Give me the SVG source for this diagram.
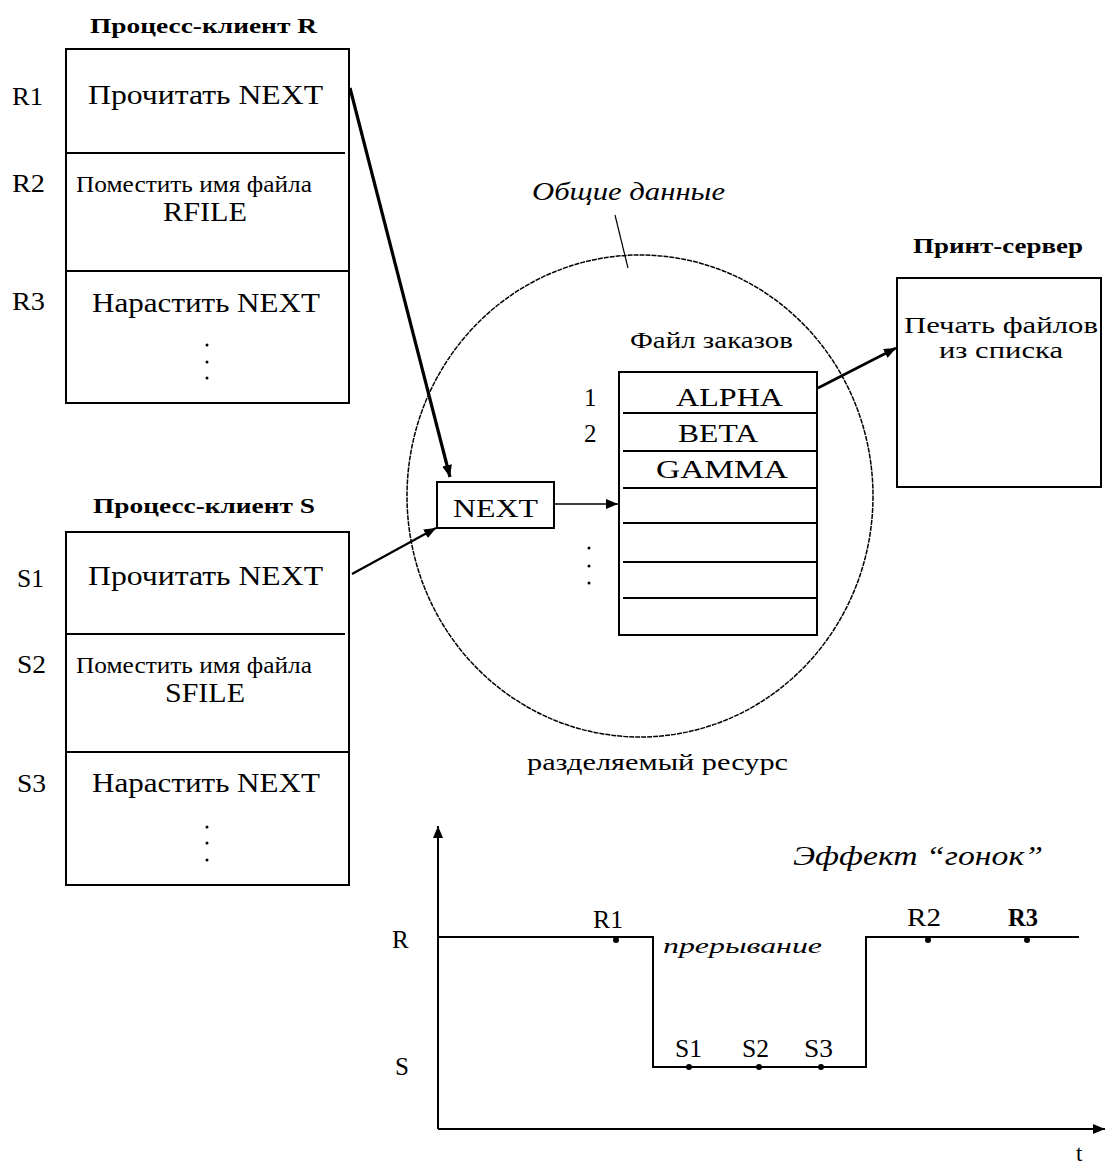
<svg xmlns="http://www.w3.org/2000/svg" width="1105" height="1164" viewBox="0 0 1105 1164">
<style>
text{font-family:"Liberation Serif","Times New Roman",serif;fill:#000}
.t{font-size:28px}
.sm{font-size:23px}
.lbl{font-size:25px}
.b{font-size:22px;font-weight:bold}
.i{font-style:italic}
.box{fill:#fff;stroke:#000;stroke-width:2}
.ln{stroke:#000;stroke-width:2;fill:none}
.dot{fill:#000}
</style>
<defs>
<marker id="ah" viewBox="0 0 12 10" refX="12" refY="5" markerWidth="12" markerHeight="10" markerUnits="userSpaceOnUse" orient="auto">
<path d="M0,0 L12,5 L0,10 z" fill="#000"/>
</marker>
</defs>
<rect width="1105" height="1164" fill="#fff"/>

<g id="shared-resource">
<ellipse cx="640" cy="496" rx="233" ry="241" fill="none" stroke="#000" stroke-width="1.5" stroke-dasharray="5 1"/>
<text class="lbl i" x="532" y="200" textLength="193" lengthAdjust="spacingAndGlyphs">Общие данные</text>
<text class="sm" x="527" y="770" textLength="261" lengthAdjust="spacingAndGlyphs">разделяемый ресурс</text>
</g>

<g id="client-r">
<text class="b" x="90" y="33" textLength="227" lengthAdjust="spacingAndGlyphs">Процесс-клиент R</text>
<rect class="box" x="66" y="49" width="283" height="354"/>
<line class="ln" x1="66" y1="153" x2="345" y2="153"/>
<line class="ln" x1="66" y1="271" x2="349" y2="271"/>
<text class="lbl" x="12" y="105" textLength="31" lengthAdjust="spacingAndGlyphs">R1</text>
<text class="lbl" x="12" y="192" textLength="33" lengthAdjust="spacingAndGlyphs">R2</text>
<text class="lbl" x="12" y="310" textLength="33" lengthAdjust="spacingAndGlyphs">R3</text>
<text class="t" x="88" y="104" textLength="235" lengthAdjust="spacingAndGlyphs">Прочитать NEXT</text>
<text class="sm" x="76" y="192" textLength="236" lengthAdjust="spacingAndGlyphs">Поместить имя файла</text>
<text class="t" x="163" y="221" textLength="84" lengthAdjust="spacingAndGlyphs">RFILE</text>
<text class="t" x="92" y="312" textLength="228" lengthAdjust="spacingAndGlyphs">Нарастить NEXT</text>
<circle class="dot" cx="207" cy="345" r="1.5"/>
<circle class="dot" cx="207" cy="362" r="1.5"/>
<circle class="dot" cx="207" cy="378" r="1.5"/>
</g>

<g id="client-s">
<text class="b" x="93" y="513" textLength="222" lengthAdjust="spacingAndGlyphs">Процесс-клиент S</text>
<rect class="box" x="66" y="532" width="283" height="353"/>
<line class="ln" x1="66" y1="634" x2="345" y2="634"/>
<line class="ln" x1="66" y1="752" x2="349" y2="752"/>
<text class="lbl" x="17" y="587" textLength="27" lengthAdjust="spacingAndGlyphs">S1</text>
<text class="lbl" x="17" y="673" textLength="29" lengthAdjust="spacingAndGlyphs">S2</text>
<text class="lbl" x="17" y="792" textLength="29" lengthAdjust="spacingAndGlyphs">S3</text>
<text class="t" x="88" y="585" textLength="235" lengthAdjust="spacingAndGlyphs">Прочитать NEXT</text>
<text class="sm" x="76" y="673" textLength="236" lengthAdjust="spacingAndGlyphs">Поместить имя файла</text>
<text class="t" x="165" y="702" textLength="80" lengthAdjust="spacingAndGlyphs">SFILE</text>
<text class="t" x="92" y="792" textLength="228" lengthAdjust="spacingAndGlyphs">Нарастить NEXT</text>
<circle class="dot" cx="207" cy="827" r="1.5"/>
<circle class="dot" cx="207" cy="843" r="1.5"/>
<circle class="dot" cx="207" cy="860" r="1.5"/>
</g>

<g id="next">
<rect class="box" x="437" y="482" width="117" height="46"/>
<text class="lbl" x="453" y="517" textLength="85" lengthAdjust="spacingAndGlyphs">NEXT</text>
</g>

<g id="order-file">
<text class="sm" x="630" y="348" textLength="163" lengthAdjust="spacingAndGlyphs">Файл заказов</text>
<rect class="box" x="619" y="372" width="198" height="263"/>
<line class="ln" x1="623" y1="413" x2="817" y2="413"/>
<line class="ln" x1="623" y1="451" x2="817" y2="451"/>
<line class="ln" x1="623" y1="488" x2="817" y2="488"/>
<line class="ln" x1="623" y1="523" x2="817" y2="523"/>
<line class="ln" x1="623" y1="562" x2="817" y2="562"/>
<line class="ln" x1="623" y1="598" x2="817" y2="598"/>
<text class="lbl" x="584" y="406">1</text>
<text class="lbl" x="584" y="442">2</text>
<text class="lbl" x="676" y="406" textLength="107" lengthAdjust="spacingAndGlyphs">ALPHA</text>
<text class="lbl" x="678" y="442" textLength="80" lengthAdjust="spacingAndGlyphs">BETA</text>
<text class="lbl" x="656" y="478" textLength="132" lengthAdjust="spacingAndGlyphs">GAMMA</text>
<circle class="dot" cx="589" cy="548" r="1.5"/>
<circle class="dot" cx="589" cy="566" r="1.5"/>
<circle class="dot" cx="589" cy="583" r="1.5"/>
</g>

<g id="print-server">
<text class="b" x="913" y="253" textLength="170" lengthAdjust="spacingAndGlyphs">Принт-сервер</text>
<rect class="box" x="897" y="278" width="204" height="209"/>
<text class="sm" x="904" y="333" textLength="194" lengthAdjust="spacingAndGlyphs">Печать файлов</text>
<text class="sm" x="939" y="358" textLength="124" lengthAdjust="spacingAndGlyphs">из списка</text>
</g>

<g id="connectors">
<line x1="350" y1="88" x2="450" y2="477" stroke="#000" stroke-width="3.2" marker-end="url(#ah)"/>
<line x1="352" y1="574" x2="436" y2="528" stroke="#000" stroke-width="2.2" marker-end="url(#ah)"/>
<line x1="554" y1="504" x2="618" y2="504" stroke="#000" stroke-width="1.5" marker-end="url(#ah)"/>
<line x1="818" y1="388" x2="896" y2="348" stroke="#000" stroke-width="2.6" marker-end="url(#ah)"/>
<line x1="615" y1="215" x2="628" y2="268" stroke="#000" stroke-width="1.2"/>
</g>

<g id="race-chart">
<line x1="438" y1="1129" x2="438" y2="826" stroke="#000" stroke-width="2" marker-end="url(#ah)"/>
<line x1="438" y1="1129" x2="1105" y2="1129" stroke="#000" stroke-width="2" marker-end="url(#ah)"/>
<polyline class="ln" points="438,937 653,937 653,1067 866,1067 866,937 1079,937"/>
<circle class="dot" cx="616" cy="940" r="3"/>
<circle class="dot" cx="928" cy="940" r="3"/>
<circle class="dot" cx="1027" cy="940" r="3"/>
<circle class="dot" cx="689" cy="1067" r="3"/>
<circle class="dot" cx="759" cy="1067" r="3"/>
<circle class="dot" cx="821" cy="1067" r="3"/>
<text class="lbl" x="392" y="948">R</text>
<text class="lbl" x="395" y="1075">S</text>
<text class="lbl" x="593" y="928" textLength="30" lengthAdjust="spacingAndGlyphs">R1</text>
<text class="lbl" x="907" y="926" textLength="34" lengthAdjust="spacingAndGlyphs">R2</text>
<text class="lbl" x="1008" y="926" font-weight="bold" textLength="30" lengthAdjust="spacingAndGlyphs">R3</text>
<text class="lbl" x="675" y="1057" textLength="27" lengthAdjust="spacingAndGlyphs">S1</text>
<text class="lbl" x="742" y="1057" textLength="27" lengthAdjust="spacingAndGlyphs">S2</text>
<text class="lbl" x="804" y="1057" textLength="29" lengthAdjust="spacingAndGlyphs">S3</text>
<text class="i" font-size="21" x="663" y="953" textLength="159" lengthAdjust="spacingAndGlyphs">прерывание</text>
<text class="i" font-size="27" x="793" y="865" textLength="250" lengthAdjust="spacingAndGlyphs">Эффект “гонок”</text>
<text class="sm" x="1076" y="1161">t</text>
</g>
</svg>
